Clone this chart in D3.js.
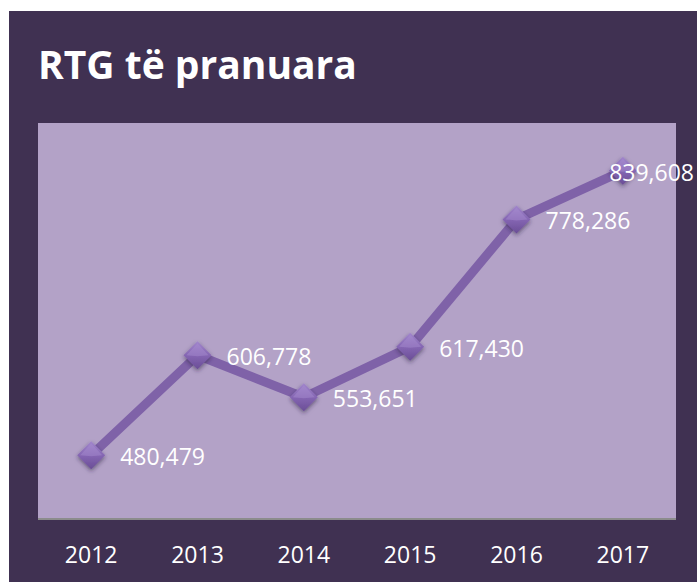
<!DOCTYPE html>
<html><head><meta charset="utf-8">
<script src="https://cdn.jsdelivr.net/npm/d3@7"></script>
<style>html,body{margin:0;padding:0;background:#fff;}svg{display:block;}</style>
</head><body>
<script>
const title = "RTG të pranuara";
const years = ["2012","2013","2014","2015","2016","2017"];
const values = [480479, 606778, 553651, 617430, 778286, 839608];
const yDomain = [400000, 900000];

const W = 699, H = 582;
const svg = d3.select("body").append("svg").attr("width", W).attr("height", H);
const defs = svg.append("defs");

const grad = defs.append("linearGradient").attr("id","mk").attr("x1","0").attr("y1","0").attr("x2","0").attr("y2","1");
grad.append("stop").attr("offset","0").attr("stop-color","#a186cc");
grad.append("stop").attr("offset","0.5").attr("stop-color","#8566b3");
grad.append("stop").attr("offset","1").attr("stop-color","#6a4d96");
const sh = defs.append("filter").attr("id","sh").attr("x","-50%").attr("y","-50%").attr("width","200%").attr("height","200%");
sh.append("feDropShadow").attr("dx",0).attr("dy",2).attr("stdDeviation",2).attr("flood-color","#2a1c3c").attr("flood-opacity",0.55);

// background
svg.append("rect").attr("x",9).attr("y",11).attr("width",688).attr("height",571).attr("fill","#403152");

const plot = {l:38, r:676, t:123, b:519};
svg.append("rect").attr("x",plot.l).attr("y",plot.t).attr("width",plot.r-plot.l).attr("height",plot.b-plot.t).attr("fill","#b3a2c7");

svg.append("text").attr("x",38).attr("y",79).text(title)
  .attr("font-family","'Open Sans', sans-serif").attr("font-weight","bold").attr("font-size",39).attr("fill","#ffffff");

const x = d3.scaleBand().domain(years).range([plot.l, plot.r]);
const y = d3.scaleLinear().domain(yDomain).range([plot.b, plot.t]);
const cx = d => x(d) + x.bandwidth()/2;

// axis
const axis = d3.axisBottom(x).tickSize(0).tickPadding(0);
const gA = svg.append("g").attr("transform",`translate(0,${plot.b})`).call(axis);
gA.select(".domain").attr("stroke","#8c8c8c").attr("stroke-width",2).attr("d",`M${plot.l},0H${plot.r}`);
gA.selectAll(".tick text").attr("y",44).attr("dy",0).attr("fill","#ffffff")
  .attr("font-family","'Open Sans', sans-serif").attr("font-size",23);

const data = years.map((yr,i)=>({yr, v:values[i]}));
const line = d3.line().x(d=>cx(d.yr)).y(d=>y(d.v));
svg.append("path").datum(data).attr("d",line).attr("fill","none")
  .attr("stroke","#7f62a8").attr("stroke-width",9).attr("stroke-linejoin","round");

const s = 14;
svg.selectAll(".mk").data(data).join("path").attr("class","mk")
  .attr("d",d=>{const X=cx(d.yr),Y=y(d.v);return `M${X},${Y-s}L${X+s},${Y}L${X},${Y+s}L${X-s},${Y}Z`;})
  .attr("fill","url(#mk)").attr("filter","url(#sh)");
svg.selectAll(".hl").data(data).join("path").attr("class","hl")
  .attr("d",d=>{const X=cx(d.yr),Y=y(d.v);return `M${X},${Y-s+2}L${X+s-3},${Y}L${X},${Y+1}L${X-s+3},${Y}Z`;})
  .attr("fill","#a88fd0").attr("opacity",0.45);

const fmt = d3.format(",");
svg.selectAll(".lb").data(data).join("text").attr("class","lb")
  .attr("font-family","'Open Sans', sans-serif").attr("font-size",23).attr("fill","#ffffff")
  .attr("y",d=>y(d.v)+10)
  .text(d=>fmt(d.v))
  .each(function(d){
    const t=d3.select(this); const w=this.getComputedTextLength();
    let X=cx(d.yr)+29; if(X+w>694) X=694-w;
    t.attr("x",X);
  });
</script>
</body></html>
